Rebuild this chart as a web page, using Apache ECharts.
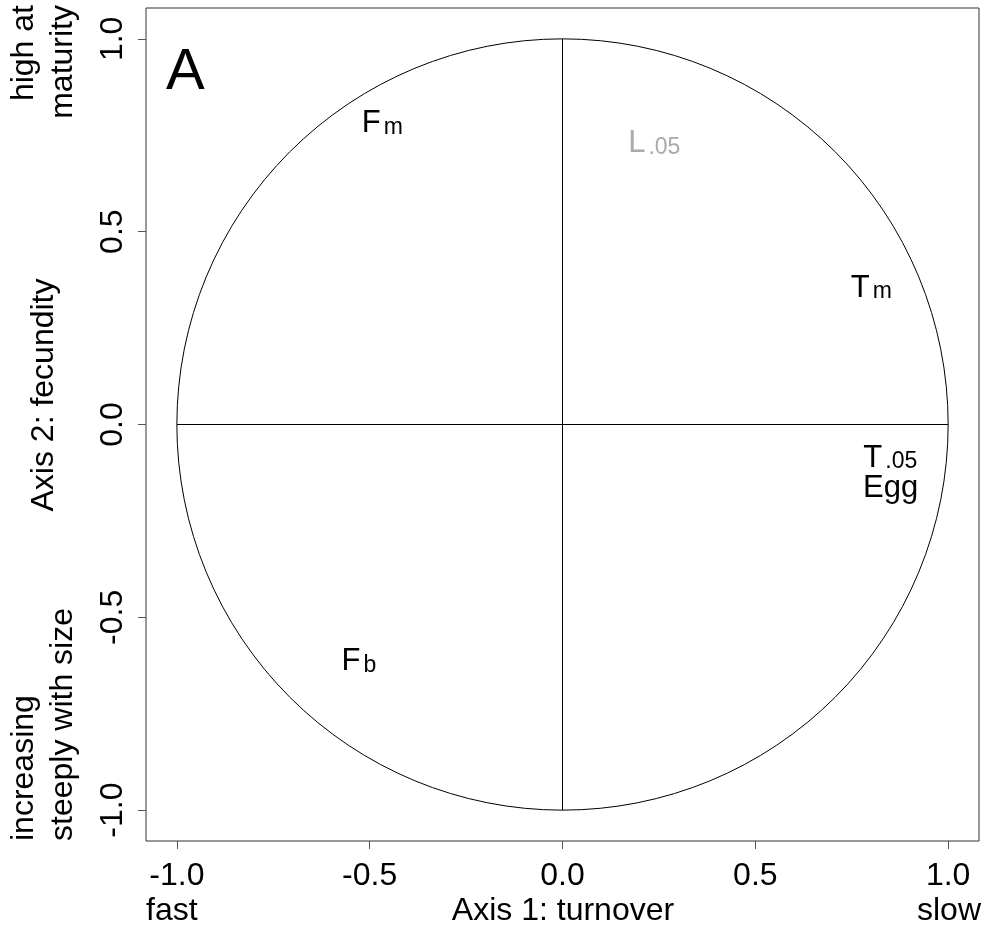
<!DOCTYPE html>
<html>
<head>
<meta charset="utf-8">
<script src="https://cdn.jsdelivr.net/npm/echarts@6/dist/echarts.min.js"></script>
<style>
  html, body { margin: 0; padding: 0; background: #fff; }
  #chart { width: 983px; height: 933px; }
</style>
</head>
<body>
<div id="chart"></div>
<script>
// tick positions on both axes
const ticks = [-1.0, -0.5, 0.0, 0.5, 1.0]

// variable labels: main letter(s), subscript, loadings on axis 1 and 2
const names = ['F', 'L', 'T', 'T', 'Egg', 'F']
const subs = ['m', '.05', 'm', '.05', '', 'b']
const axis1 = [-0.467, 0.238, 0.801, 0.850, 0.851, -0.528]
const axis2 = [0.780, 0.728, 0.354, -0.088, -0.166, -0.615]
const labelColors = ['#000', '#aaaaaa', '#000', '#000', '#000', '#000']

// correlation circle (cx, cy, r) and the two cross lines
const circle = [[0, 0, 1]]
const hLine = [[-1, 0], [1, 0]]
const vLine = [[0, -1], [0, 1]]

const FONT = "'Liberation Sans', Arial, Helvetica, sans-serif"

const chart = echarts.init(document.getElementById('chart'))

const axisCommon = {
  type: 'value',
  min: -1.08,
  max: 1.08,
  axisLine: { show: false, onZero: false },
  splitLine: { show: false },
  axisTick: {
    show: true,
    customValues: ticks,
    length: 8,
    lineStyle: { color: '#555', width: 1 },
  },
}

const labelData = names.map((n, i) => [axis1[i], axis2[i], i])

chart.setOption({
  animation: false,
  backgroundColor: '#fff',
  grid: {
    left: 146,
    right: 4,
    top: 8,
    bottom: 92,
    show: true,
    borderColor: '#333',
    borderWidth: 1,
  },
  xAxis: {
    ...axisCommon,
    axisLabel: {
      customValues: ticks,
      formatter: v => v.toFixed(1),
      fontFamily: FONT,
      fontSize: 32,
      color: '#000',
      margin: 19,
    },
  },
  yAxis: {
    ...axisCommon,
    axisLabel: {
      customValues: ticks,
      formatter: v => v.toFixed(1),
      fontFamily: FONT,
      fontSize: 32,
      color: '#000',
      rotate: 90,
      align: 'center',
      verticalAlign: 'bottom',
      margin: 17,
    },
  },
  series: [
    {
      type: 'custom',
      silent: true,
      data: circle,
      renderItem: (params, api) => {
        const c = api.coord([api.value(0), api.value(1)])
        const s = api.size([api.value(2), api.value(2)])
        return {
          type: 'circle',
          shape: { cx: c[0], cy: c[1], r: s[0] },
          style: { fill: 'none', stroke: '#000', lineWidth: 1 },
        }
      },
    },
    {
      type: 'line',
      silent: true,
      data: hLine,
      symbol: 'none',
      lineStyle: { color: '#000', width: 1 },
    },
    {
      type: 'line',
      silent: true,
      data: vLine,
      symbol: 'none',
      lineStyle: { color: '#000', width: 1 },
    },
    {
      // variable names with subscripts, centred on their loadings
      type: 'custom',
      silent: true,
      z: 5,
      data: labelData,
      renderItem: (params, api) => {
        const i = api.value(2)
        const p = api.coord([api.value(0), api.value(1)])
        const color = labelColors[i]
        const text = subs[i] ? `{b|${names[i]}}{s|${subs[i]}}` : `{b|${names[i]}}`
        return {
          type: 'text',
          x: p[0],
          y: p[1],
          style: {
            text: text,
            fill: color,
            align: 'center',
            verticalAlign: 'middle',
            rich: {
              b: { fill: color, fontFamily: FONT, fontSize: 31, lineHeight: 30 },
              s: { fill: color, fontFamily: FONT, fontSize: 23, lineHeight: 6, verticalAlign: 'bottom', padding: [0, 0, 0, 3] },
            },
          },
        }
      },
    },
  ],
  graphic: [
    {
      type: 'text', x: 166, y: 73,
      style: { text: 'A', font: `58px ${FONT}`, fill: '#000', align: 'left', verticalAlign: 'middle' },
    },
    {
      type: 'text', x: 563, y: 911,
      style: { text: 'Axis 1: turnover', font: `32px ${FONT}`, fill: '#000', align: 'center', verticalAlign: 'middle' },
    },
    {
      type: 'text', x: 146, y: 911,
      style: { text: 'fast', font: `32px ${FONT}`, fill: '#000', align: 'left', verticalAlign: 'middle' },
    },
    {
      type: 'text', x: 981, y: 911,
      style: { text: 'slow', font: `32px ${FONT}`, fill: '#000', align: 'right', verticalAlign: 'middle' },
    },
    {
      type: 'text', x: 44, y: 395, rotation: Math.PI / 2,
      style: { text: 'Axis 2: fecundity', font: `32px ${FONT}`, fill: '#000', align: 'center', verticalAlign: 'middle' },
    },
    {
      type: 'text', x: 44, y: 5, rotation: Math.PI / 2,
      style: { text: 'high at\nmaturity', font: `32px ${FONT}`, lineHeight: 39, fill: '#000', align: 'right', verticalAlign: 'middle' },
    },
    {
      type: 'text', x: 44, y: 841, rotation: Math.PI / 2,
      style: { text: 'increasing\nsteeply with size', font: `32px ${FONT}`, lineHeight: 39, fill: '#000', align: 'left', verticalAlign: 'middle' },
    },
  ],
})
</script>
</body>
</html>
